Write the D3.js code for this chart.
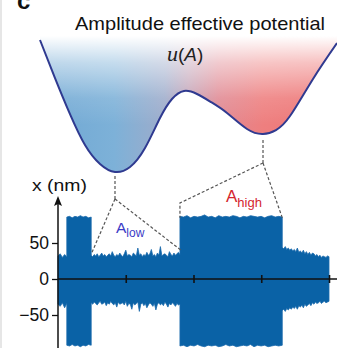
<!DOCTYPE html>
<html><head><meta charset="utf-8">
<script src="https://cdn.jsdelivr.net/npm/d3@7"></script>
<style>body{margin:0;background:#fff}svg{display:block}text{font-family:"Liberation Sans",Arial,sans-serif}</style>
</head><body>
<script>
// ---- potential curve (A in nm, u arbitrary) ----
const potA = [8.17, 13.55, 18.92, 24.30, 29.68, 35.05, 40.43, 45.81, 51.18, 55.48, 59.78, 64.44, 69.46, 75.20, 82.37, 88.10, 92.76, 97.78, 106.02, 114.62];
const potU = [10.0, 7.12, 4.39, 2.05, 0.61, 0.0, 0.38, 1.82, 4.09, 5.53, 6.14, 5.91, 5.30, 4.47, 3.26, 2.88, 3.18, 4.24, 7.05, 9.77];
// ---- time trace segments (t in arbitrary time units) ----
const segStart = [0, 0.13, 0.49, 1.80, 3.31];
const segEnd   = [0.13, 0.49, 1.80, 3.31, 4.0];
const up0 = [32, 35, 30, 34, 31];
const lo0 = [-35, -38, -33, -40, -34];
const up1 = [86, 87, 85, 87, 86, 88, 86, 87, 85, 86];
const lo1 = [-92, -93, -91, -93, -92, -94, -92, -93, -91, -92];
const up2 = [33,31,34,32,35,31,33,36,32,34,31,33,35,32,38,33,31,34,32,36,33,31,35,40,32,34,33,31,36,34,32,43,33,35,31,34,32,37,33,35,41,32,34,31,36,33,45,32,34,35,33,31,38,34,32,36,33,35,37,34];
const lo2 = [-33,-35,-32,-34,-36,-33,-31,-35,-34,-32,-37,-33,-35,-31,-34,-36,-33,-39,-32,-35,-34,-33,-36,-31,-38,-34,-35,-42,-33,-36,-34,-32,-45,-35,-33,-37,-34,-40,-36,-33,-35,-38,-34,-43,-35,-33,-36,-34,-37,-32,-35,-39,-34,-36,-33,-35,-38,-34,-36,-35];
const up3 = [87,86,88,85,87,86,87,89,86,87,85,88,86,87,86,88,87,85,87,86,88,87,86,87,85,87,88,86,87,86];
const lo3 = [-93,-92,-94,-92,-93,-91,-93,-94,-92,-93,-92,-94,-93,-91,-93,-92,-94,-93,-92,-93,-91,-94,-92,-93,-92,-94,-93,-92,-93,-92];
const up4 = [44,42,45,41,43,40,42,39,41,38,43,37,39,36,40,35,38,34,37,33,36,35,32,34,31,33,30,32,31,30,32,31];
const lo4 = [-44,-42,-45,-41,-43,-40,-42,-39,-41,-38,-42,-37,-39,-36,-40,-35,-38,-36,-34,-37,-33,-35,-32,-34,-33,-31,-34,-32,-31,-33,-32,-31];
const uppers = [up0, up1, up2, up3, up4];
const lowers = [lo0, lo1, lo2, lo3, lo4];
const yTicks = [-50, 0, 50];
const tTicks = [1, 2, 3, 4];
const lowLevel = 40, highLevel = 88;

const W = 337, H = 348;
const svg = d3.select("body").append("svg").attr("width", W).attr("height", H);
const defs = svg.append("defs");

svg.append("rect").attr("x", 0).attr("y", 0).attr("width", 2).attr("height", H).attr("fill", "#e6e6e6");

// scales
const xA = d3.scaleLinear().domain([8.17, 114.62]).range([40, 337]);
const yU = d3.scaleLinear().domain([0, 10]).range([172, 40]);
const xT = d3.scaleLinear().domain([0, 4]).range([58, 329]);
const yX = d3.scaleLinear().domain([-50, 50]).range([315, 243]);

// gradients
const hg = defs.append("linearGradient").attr("id", "hg").attr("gradientUnits", "userSpaceOnUse")
  .attr("x1", 40).attr("x2", 337).attr("y1", 0).attr("y2", 0);
[[0, "#6fa7d3"], [0.25, "#7db1d8"], [0.42, "#9eaccb"], [0.5, "#c2a2b6"], [0.6, "#e08a94"], [0.75, "#ee7f7f"], [1, "#ee7474"]]
  .forEach(([o, c]) => hg.append("stop").attr("offset", o).attr("stop-color", c));
const vg = defs.append("linearGradient").attr("id", "vg").attr("gradientUnits", "userSpaceOnUse")
  .attr("x1", 0).attr("x2", 0).attr("y1", 36).attr("y2", 125);
[[0, 1], [0.3, 0.55], [0.7, 0.12], [1, 0]]
  .forEach(([o, a]) => vg.append("stop").attr("offset", o).attr("stop-color", "#fff").attr("stop-opacity", a));

const pts = potA.map((a, i) => [a, potU[i]]);
const area = d3.area().x(d => xA(d[0])).y0(yU(10.3)).y1(d => yU(d[1])).curve(d3.curveNatural);
const line = d3.line().x(d => xA(d[0])).y(d => yU(d[1])).curve(d3.curveNatural);
svg.append("path").attr("d", area(pts)).attr("fill", "url(#hg)");
svg.append("path").attr("d", area(pts)).attr("fill", "url(#vg)");
svg.append("path").attr("d", line(pts)).attr("fill", "none").attr("stroke", "#2f3a90").attr("stroke-width", 2);

// title
svg.append("text").attr("x", 75).attr("y", 30).attr("font-size", 18.5)
  .attr("textLength", 250).attr("lengthAdjust", "spacingAndGlyphs").attr("fill", "#111")
  .text("Amplitude effective potential");
const ut = svg.append("text").attr("x", 167).attr("y", 61).attr("font-size", 19).attr("fill", "#222");
ut.append("tspan").attr("font-family", "'Liberation Serif',serif").attr("font-style", "italic").attr("font-size", 22).text("u");
ut.append("tspan").text("(");
ut.append("tspan").attr("font-style", "italic").text("A");
ut.append("tspan").text(")");

svg.append("text").attr("x", 17).attr("y", 9).attr("font-size", 24).attr("font-weight", "bold").attr("fill", "#111").text("c");

// signal
const sig = [];
uppers.forEach((u, s) => {
  const n = u.length;
  u.forEach((v, i) => sig.push({t: segStart[s] + (segEnd[s] - segStart[s]) * i / (n - 1), hi: v, lo: lowers[s][i]}));
});
const sArea = d3.area().x(d => xT(d.t)).y0(d => yX(d.lo)).y1(d => yX(d.hi));
svg.append("path").attr("d", sArea(sig)).attr("fill", "#0a62a6").attr("stroke", "#1a6aac").attr("stroke-width", 0.8);

// dashed connectors
const dash = {stroke: "#555", "stroke-width": 1.2, "stroke-dasharray": "3,2", fill: "none"};
const wellL = [xA(35.05), yU(0)], wellR = [xA(88.1), yU(2.88)];
const conn = [
  [[wellL[0], wellL[1] + 4], [wellL[0], 199]],
  [[wellL[0], 199], [xT(segStart[2]), yX(lowLevel) + 4]],
  [[wellL[0], 199], [xT(segEnd[2]) + 1, yX(lowLevel)]],
  [[wellR[0], wellR[1] + 6], [wellR[0], 163]],
  [[wellR[0], 163], [xT(segStart[3]), 203], [xT(segStart[3]), yX(highLevel) + 2]],
  [[wellR[0], 163], [xT(segEnd[3]), yX(highLevel) + 2]]
];
conn.forEach(c => {
  const p = svg.append("path").attr("d", d3.line()(c));
  Object.entries(dash).forEach(([k, v]) => p.attr(k, v));
});

// labels A_low, A_high
const al = svg.append("text").attr("x", 116).attr("y", 233).attr("font-size", 15.5).attr("fill", "#3b3bc6");
al.append("tspan").text("A");
al.append("tspan").attr("dy", 4).attr("font-size", 12).text("low");
const ah = svg.append("text").attr("x", 226).attr("y", 202).attr("font-size", 17).attr("fill", "#d4262e");
ah.append("tspan").text("A");
ah.append("tspan").attr("dy", 5).attr("font-size", 13).text("high");

// axes
const gx = svg.append("g").attr("transform", `translate(0,${yX(0)})`)
  .call(d3.axisBottom(xT).tickValues(tTicks).tickFormat("").tickSize(4));
gx.select(".domain").remove();
gx.selectAll(".tick line").attr("y1", -4).attr("y2", 4).attr("stroke", "#111").attr("stroke-width", 1.6);
svg.append("line").attr("x1", 58).attr("x2", 337).attr("y1", yX(0)).attr("y2", yX(0)).attr("stroke", "#111").attr("stroke-width", 1.6);

const gy = svg.append("g").attr("transform", "translate(58,0)")
  .call(d3.axisLeft(yX).tickValues(yTicks).tickSize(6).tickPadding(3));
gy.select(".domain").remove();
gy.selectAll(".tick line").attr("stroke", "#111").attr("stroke-width", 1.3);
gy.selectAll(".tick text").attr("font-size", 17.5).attr("fill", "#111")
  .attr("font-family", "'Liberation Sans',Arial,sans-serif");
svg.append("line").attr("x1", 58).attr("x2", 58).attr("y1", 203).attr("y2", H).attr("stroke", "#111").attr("stroke-width", 1.5);
svg.append("path").attr("d", d3.line()([[54, 206], [58, 196], [62, 206], [58, 204]])).attr("fill", "#111");
svg.append("text").attr("x", 32).attr("y", 191).attr("font-size", 17).attr("fill", "#111")
  .attr("textLength", 55).attr("lengthAdjust", "spacingAndGlyphs").text("x (nm)");
</script>
</body></html>
